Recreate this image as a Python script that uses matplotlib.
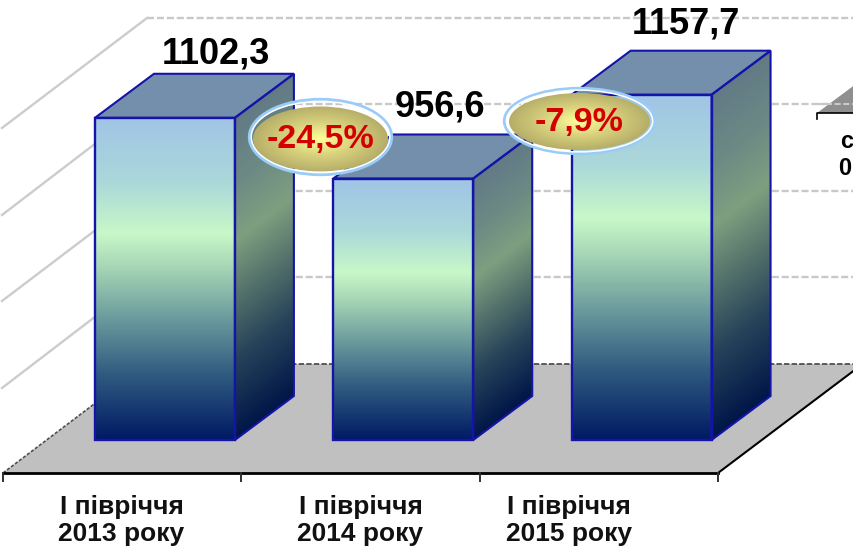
import numpy as np
import matplotlib
matplotlib.use('Agg')
import matplotlib.pyplot as plt
from matplotlib.colors import LinearSegmentedColormap
from matplotlib.patches import Ellipse, Polygon, Rectangle

plt.rcParams['font.family'] = ['Liberation Sans', 'DejaVu Sans']

# Datos
categories = ['I півріччя\n2013 року', 'I півріччя\n2014 року', 'I півріччя\n2015 року']
values = [1102.3, 956.6, 1157.7]
value_labels = ['1102,3', '956,6', '1157,7']
change_labels = ['-24,5%', '-7,9%']

# Escala: eje de valores truncado, una categoria = 238.33 px
PX_PER_CAT = 238.33
PX_PER_UNIT = 0.4167
X0_PX = 3
Y_REF_PX, Y_REF_VAL = 130.33, 1072.2


def x_of(px):
    return (px - X0_PX) / PX_PER_CAT


def y_of(px):
    return Y_REF_VAL + (Y_REF_PX - px) / PX_PER_UNIT


front_cmap = LinearSegmentedColormap.from_list('front', [
    (0.0, '#a0c4e6'), (0.2, '#abd8da'), (0.36, '#c8f8c8'), (0.47, '#a4d4b4'),
    (0.62, '#6d9c9e'), (0.8, '#2f5a80'), (1.0, '#001a64')])
side_cmap = LinearSegmentedColormap.from_list('side', [
    (0.0, '#627a86'), (0.2, '#6c8a84'), (0.38, '#7f9f80'), (0.55, '#56746c'),
    (0.75, '#27435a'), (1.0, '#001648')])
gold_cmap = LinearSegmentedColormap.from_list('gold', ['#ffff99', '#d8d27e', '#b6ae68'])

fig = plt.figure(figsize=(8.54, 5.5), dpi=100)
ax = fig.add_axes([0, 0, 1, 1])
ax.axis('off')

# Paredes y suelo
grid_px = [18, 104, 191, 277]
wall_px = [128, 215, 301, 388]
for g, w in zip(grid_px, wall_px):
    ax.plot([x_of(147), x_of(860)], [y_of(g), y_of(g)], color='#c8c8c8', lw=1.7,
            ls=(0, (3, 1.2)), zorder=1)
    ax.plot([x_of(2), x_of(147)], [y_of(w), y_of(g)], color='#cccccc', lw=1.7, zorder=1)

floor = [(3, 473), (718, 473), (863, 364), (147, 364)]
ax.add_patch(Polygon([(x_of(a), y_of(b)) for a, b in floor], fc='#c0c0c0', ec='none', zorder=2))
ax.plot([x_of(147), x_of(860)], [y_of(364), y_of(364)], color='#505050', lw=1.3,
        ls=(0, (3, 1.2)), zorder=3)
ax.plot([x_of(3), x_of(147)], [y_of(473), y_of(364)], color='#505050', lw=1.2,
        ls=(0, (2, 1)), zorder=3)
ax.plot([x_of(718), x_of(860)], [y_of(473), y_of(366)], color='black', lw=1.5, zorder=3)
ax.plot([0, 3], [y_of(473), y_of(473)], color='black', lw=2, zorder=3)
for i in range(4):
    ax.plot([i, i], [y_of(473), y_of(481)], color='#303030', lw=1.4, zorder=3)

# Fragmento de la diapositiva vecina
ax.add_patch(Polygon([(x_of(817), y_of(113)), (x_of(860), y_of(81)), (x_of(860), y_of(113))],
                     fc='#8f8f8f', ec='none', zorder=2))
ax.plot([x_of(817), x_of(860)], [y_of(104), y_of(104)], color='#c8c8c8', lw=1.5,
        ls=(0, (3, 1.2)), zorder=3)
ax.plot([x_of(817), x_of(817), x_of(860)], [y_of(119), y_of(113), y_of(113)], color='black',
        lw=1.2, zorder=3)
ax.text(x_of(847), y_of(148), 'с', fontsize=17, fontweight='bold', ha='center', va='baseline')
ax.text(x_of(845), y_of(175), '0', fontsize=17, fontweight='bold', ha='center', va='baseline')

# Barras
base = y_of(440)
bar_left = 0.386
bar_w = 0.587
depth_x = 59 / PX_PER_CAT
depth_y = 44 / PX_PER_UNIT
edge = '#1414a8'
label_dx = [51, 37, 44]
label_gap = [54, 62, 61]
category_px = [121.5, 360.5, 569]

for i, v in enumerate(values):
    x1 = i + bar_left
    x2 = x1 + bar_w
    h = v - base

    # Cara frontal
    im = ax.imshow(np.linspace(0, 1, 256).reshape(-1, 1), cmap=front_cmap, vmin=0, vmax=1,
                   extent=(x1, x2, base, v), aspect='auto', origin='upper', zorder=5 + i)
    front = Rectangle((x1, base), bar_w, h, transform=ax.transData)
    im.set_clip_path(front)

    # Cara lateral con degradado inclinado
    u = np.linspace(0, 1, 80)
    r = np.linspace(0, 1, 300)
    uu, rr = np.meshgrid(u, r)
    yy = v + depth_y - rr * (h + depth_y)
    t = np.clip((v + depth_y * uu - yy) / h, 0, 1)
    im = ax.imshow(t, cmap=side_cmap, vmin=0, vmax=1,
                   extent=(x2, x2 + depth_x, base, v + depth_y),
                   aspect='auto', origin='upper', zorder=5 + i)
    side_pts = [(x2, base), (x2 + depth_x, base + depth_y), (x2 + depth_x, v + depth_y), (x2, v)]
    im.set_clip_path(Polygon(side_pts, transform=ax.transData))

    # Tapa
    top_pts = [(x1, v), (x2, v), (x2 + depth_x, v + depth_y), (x1 + depth_x, v + depth_y)]
    ax.add_patch(Polygon(top_pts, fc='#748fab', ec=edge, lw=1.5, zorder=5 + i))
    ax.add_patch(Polygon(side_pts, fc='none', ec=edge, lw=1.5, zorder=5 + i))
    ax.add_patch(Rectangle((x1, base), bar_w, h, fc='none', ec=edge, lw=1.7, zorder=5 + i))

    ax.text(x1 + bar_w / 2 + label_dx[i] / PX_PER_CAT, v + label_gap[i] / PX_PER_UNIT,
            value_labels[i], fontsize=26, fontweight='bold', ha='center', va='baseline',
            color='black', zorder=12)
    ax.text(x_of(category_px[i]), y_of(495), categories[i], fontsize=19, fontweight='bold',
            ha='center', va='top', color='#111111', linespacing=1.14, zorder=12)

# Ovalos de variacion
oval_cx = [320.5, 579.5]
oval_cy = [139, 121.5]
oval_w = [135, 141]
oval_h = [65, 57]
ring_cy = [137, 121]
ring_w = [142, 150]
ring_h = [75, 65]

for i, txt in enumerate(change_labels):
    cx, cy = x_of(oval_cx[i]), y_of(oval_cy[i])
    w, hh = oval_w[i] / PX_PER_CAT, oval_h[i] / PX_PER_UNIT
    xs, ys = np.meshgrid(np.linspace(-1, 1, 200), np.linspace(-1, 1, 200))
    im = ax.imshow(np.clip(np.hypot(xs, ys), 0, 1), cmap=gold_cmap, vmin=0, vmax=1,
                   extent=(cx - w / 2, cx + w / 2, cy - hh / 2, cy + hh / 2),
                   aspect='auto', zorder=13)
    im.set_clip_path(Ellipse((cx, cy), w, hh, transform=ax.transData))

    ring = (x_of(oval_cx[i]), y_of(ring_cy[i]))
    rw, rh = ring_w[i] / PX_PER_CAT, ring_h[i] / PX_PER_UNIT
    ax.add_patch(Ellipse(ring, rw, rh, fc='none', ec='#9accf8', lw=2.4, zorder=14))
    ax.add_patch(Ellipse(ring, rw * 0.975, rh * 0.95, fc='none', ec='white', lw=1.1, zorder=14))
    ax.text(cx, cy - 0.5 / PX_PER_UNIT, txt, fontsize=24.5, fontweight='bold', color='#d40000',
            ha='center', va='center', zorder=15)

ax.set_xlim(x_of(0), x_of(854))
ax.set_ylim(y_of(550), y_of(0))

fig.savefig('out.png', dpi=100)
